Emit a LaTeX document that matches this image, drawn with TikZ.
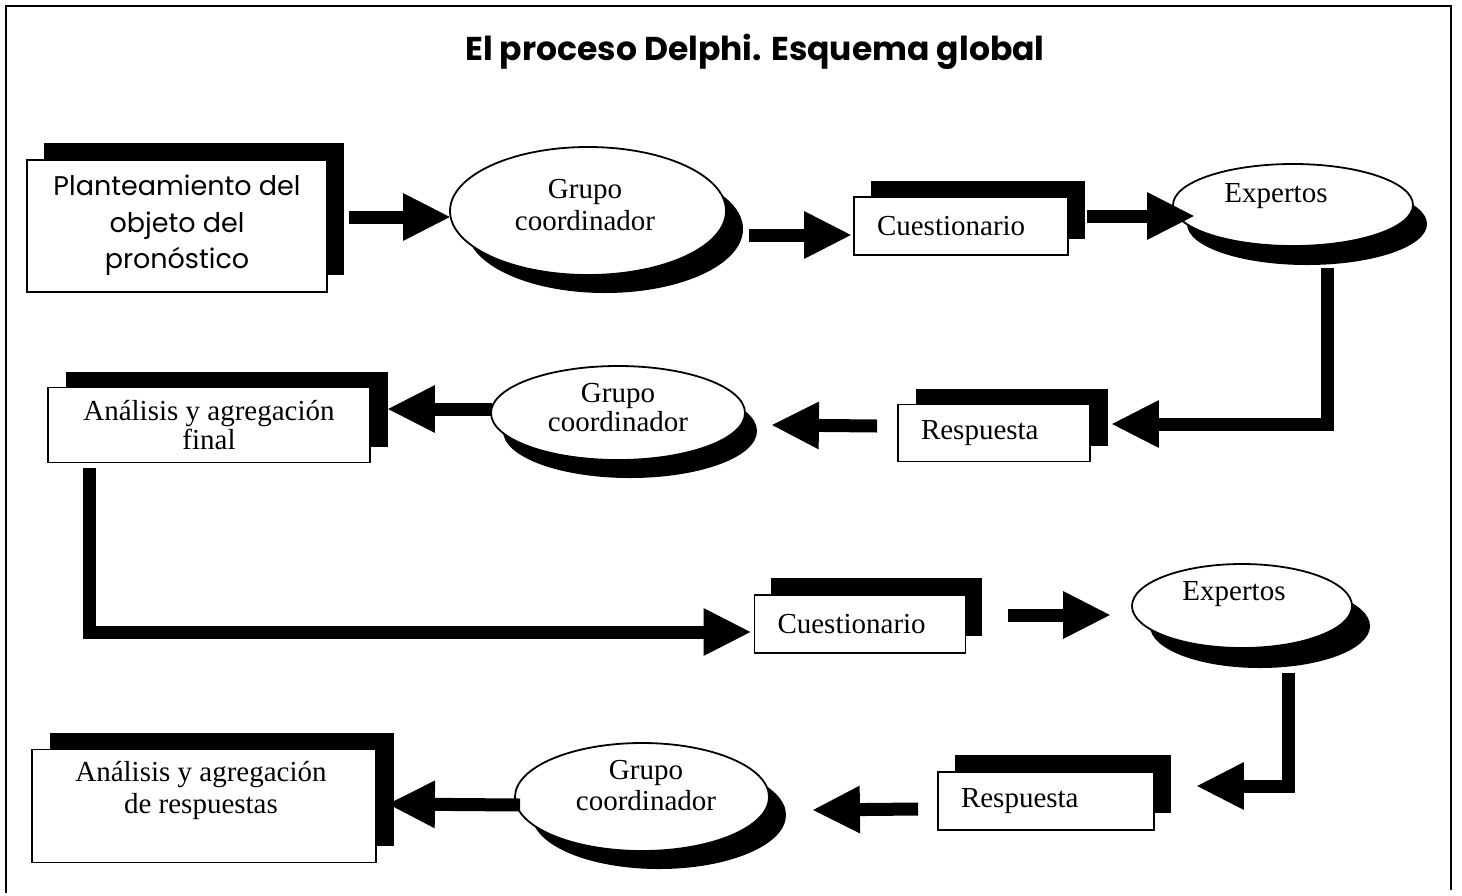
\documentclass[tikz,border=0pt]{standalone}
\usepackage{fontspec}
\setmainfont{Liberation Serif}
\newfontfamily\comicfont{Poppins}
\usetikzlibrary{shapes.geometric,shadows,arrows.meta,calc}

\begin{document}
\begin{tikzpicture}[x=0.5pt,y=-0.5pt,
  txt/.style={font=\fontsize{14.5}{16}\selectfont, align=center, inner sep=0pt},
  box/.style={rectangle, draw=black, line width=0.9pt, fill=white, inner sep=0pt,
              font=\fontsize{14.5}{14.5}\selectfont, align=center},
  lbox/.style={box, align=left, inner xsep=11.5pt},
  oval/.style={ellipse, draw=black, line width=0.9pt, fill=white, inner sep=0pt},
  sh/.style 2 args={drop shadow={shadow xshift=#1, shadow yshift=#2,
                    fill=black, opacity=1}},
  flow/.style={line width=6.5pt, line join=miter,
               -{Triangle[length=24pt, width=22pt]}},
]
\useasboundingbox (0,0) rectangle (1462,895);

% page frame (open at the bottom)
\draw[line width=1pt] (6,893) -- (6,6) -- (1451,6) -- (1451,890);

% title
\node (title) at (755,52)
  {\comicfont\bfseries\fontsize{16.5}{20}\selectfont El proceso Delphi. Esquema global};

% ---- first round ----
\node[box, minimum width=150pt, minimum height=66pt, sh={8.5pt}{8.5pt},
      font=\comicfont\fontsize{13.5}{18.25}\selectfont, text depth=4pt] (p1) at (177,226)
  {Planteamiento del\\objeto del\\pronóstico};

\node[oval, minimum width=138pt, minimum height=64pt, sh={8.5pt}{-9pt}] (g1) at (588,211) {};
\node[txt] (g1t) at (585,205) {Grupo\\coordinador};

\node[lbox, text width=84pt, minimum height=29pt, sh={8.5pt}{8pt}] (c1) at (961,226) {Cuestionario};

\node[oval, minimum width=120pt, minimum height=41pt, sh={7pt}{-9.5pt}] (x1) at (1293,205) {};
\node[txt] (x1t) at (1276,196) {Expertos};

\node[lbox, text width=73pt, minimum height=28.5pt, sh={9pt}{8pt}] (r1) at (994,433) {Respuesta};

\node[oval, minimum width=127pt, minimum height=47pt, sh={6pt}{-9pt}] (g2) at (618,413) {};
\node[txt, font=\fontsize{14.5}{14.5}\selectfont] (g2t) at (618,408) {Grupo\\coordinador};

\node[box, minimum width=161pt, minimum height=37.5pt, sh={9pt}{8pt}] (a1) at (209,425)
  {Análisis y agregación\\final};

% ---- second round ----
\node[lbox, text width=82.5pt, minimum height=29pt, sh={8pt}{8.5pt}] (c2) at (860,624) {Cuestionario};

\node[oval, minimum width=110pt, minimum height=42pt, sh={9pt}{-10pt}] (x2) at (1242,606) {};
\node[txt] (x2t) at (1234,594) {Expertos};

\node[lbox, text width=85pt, minimum height=29pt, sh={8.5pt}{8.5pt}] (r2) at (1046,801) {Respuesta};

\node[oval, minimum width=127pt, minimum height=54pt, sh={8.5pt}{-9pt}] (g3) at (642,797) {};
\node[txt, font=\fontsize{14.5}{15.5}\selectfont] (g3t) at (646,786) {Grupo\\coordinador};

\node[box, minimum width=172pt, minimum height=56.5pt, sh={9pt}{8.5pt}] (a2) at (204,806) {};
\node[txt] (a2t) at (201,790) {Análisis y agregación\\de respuestas};

% ---- connectors ----
\draw[flow] ($(p1.east)+(21,-9)$) -- ($(g1.west)+(2,6)$);
\draw[flow] ($(g1.east)+(22,24)$) -- ($(c1.west)+(-1,9)$);
\draw[flow] ($(c1.east)+(18,-10)$) -- ($(x1.west)+(23,11)$);
\draw[flow] ($(x1.south)+(34,21)$) |- ($(r1.east)+(20,-9)$);
\draw[flow] ($(r1.west)+(-20,-7)$) -- ($(g2.east)+(25,12)$);
\draw[flow] ($(g2.west)+(2,-4)$) -- ($(a1.east)+(16,-16)$);
\draw[flow] ($(a1.south)+(-120,5)$) |- ($(c2.west)+(-2,8)$);
\draw[flow] ($(c2.east)+(42,-9)$) -- ($(x2.west)+(-20,9)$);
\draw[flow] ($(x2.south)+(46,24)$) |- ($(r2.east)+(41,-15)$);
\draw[flow] ($(r2.west)+(-19,8)$) -- ($(g3.east)+(42,13)$);
\draw[flow] ($(g3.west)+(6,8)$) -- ($(a2.east)+(10,-2)$);
\end{tikzpicture}
\end{document}
